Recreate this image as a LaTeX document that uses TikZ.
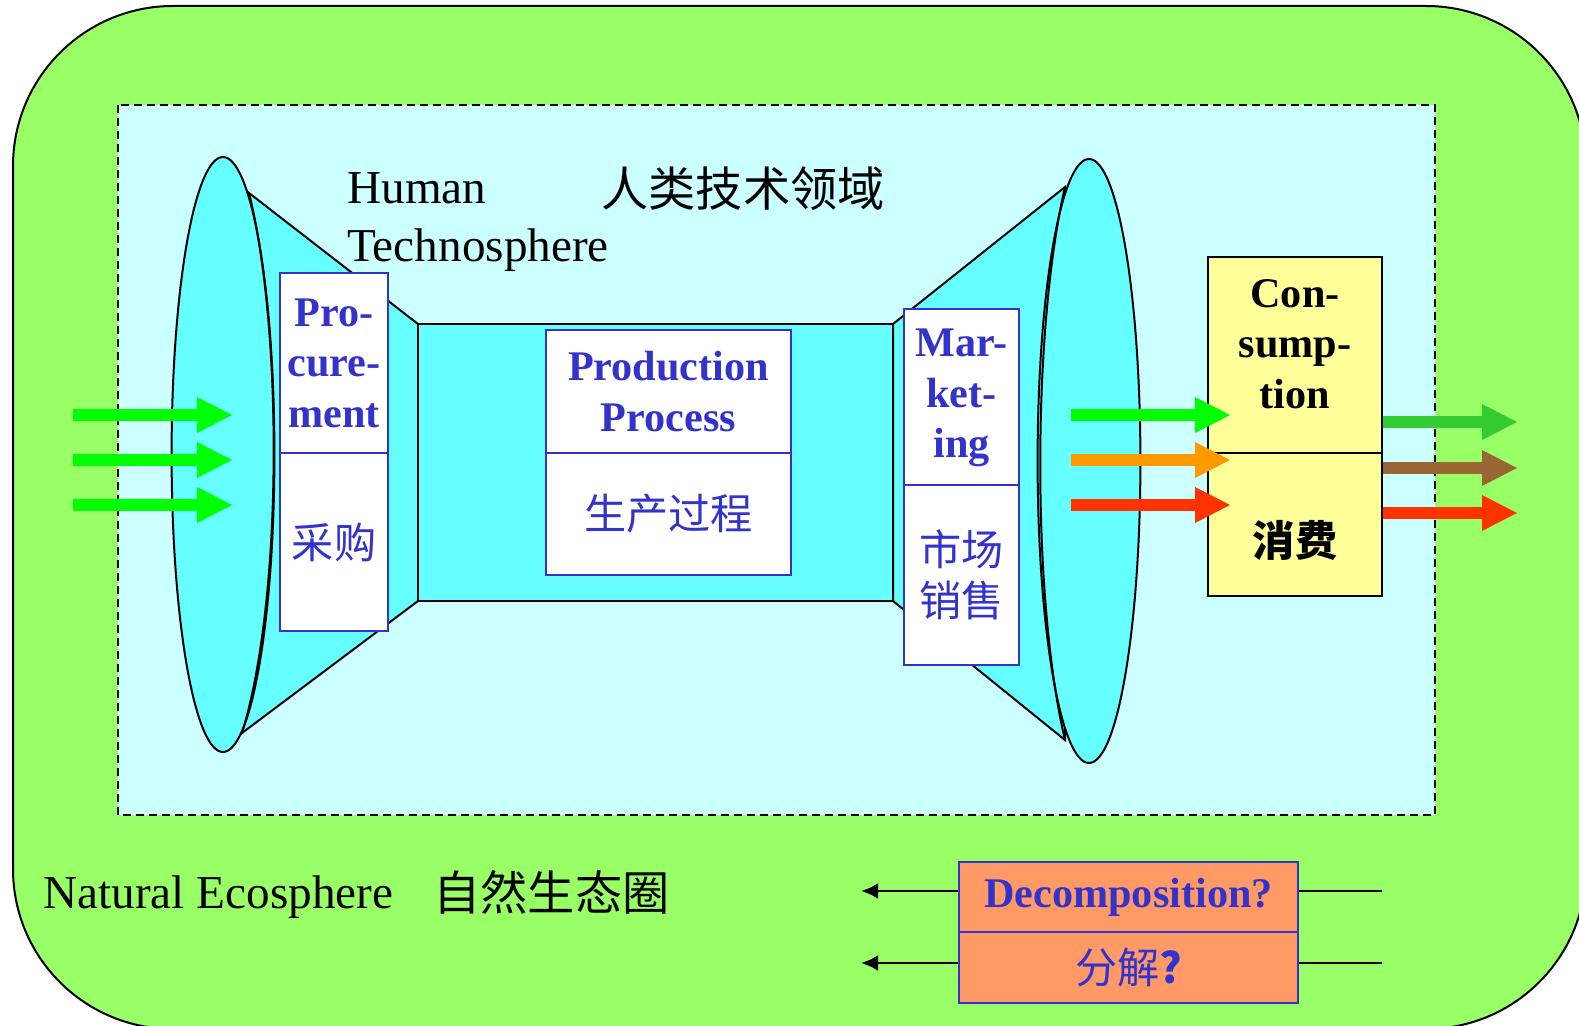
\documentclass[tikz,border=0pt]{standalone}
\usepackage{fontspec}
\setmainfont{Liberation Serif}
\newfontfamily\cjk{Noto Sans CJK SC}
\usetikzlibrary{arrows.meta}
\definecolor{ecogreen}{HTML}{99FF66}
\definecolor{techcyan}{HTML}{CCFFFF}
\definecolor{funnelcyan}{HTML}{66FFFF}
\definecolor{mblue}{HTML}{3333CC}
\definecolor{cyellow}{HTML}{FFFF99}
\definecolor{dorange}{HTML}{FF9966}
\definecolor{ingreen}{HTML}{00FF00}
\definecolor{inorange}{HTML}{FF9900}
\definecolor{inred}{HTML}{FF3300}
\definecolor{outgreen}{HTML}{33CC33}
\definecolor{outbrown}{HTML}{996633}
\newcommand{\bigtxt}{\fontsize{23.6pt}{28pt}\selectfont}
\newcommand{\boxtxt}{\fontsize{21.1pt}{25.2pt}\selectfont}
\tikzset{fat/.style = {line width=6pt, -{Triangle[length=17.5pt, width=18pt, line width=0pt]}}}
\tikzset{decline/.style = {line width=1.4pt}}
\tikzset{decarrow/.style = {line width=1.4pt, -{Latex[length=8.5pt, width=8pt]}}}
\tikzset{funnel/.style = {draw, line width=1pt, fill=funnelcyan}}
\tikzset{wbox/.style = {draw=mblue, line width=1pt, fill=white, text=mblue, inner sep=0pt,
                        align=center, font=\boxtxt\bfseries}}
\tikzset{wboxcn/.style = {wbox, font=\boxtxt\cjk}}
\tikzset{ybox/.style = {draw, line width=1pt, fill=cyellow, inner sep=0pt}}
\tikzset{obox/.style = {wbox, fill=dorange}}
\tikzset{plain/.style = {inner sep=0pt, font=\bigtxt}}

\begin{document}
\begin{tikzpicture}[x=0.5pt, y=-0.5pt]
  \useasboundingbox (0,0) rectangle (1579,1026);

  % ecosphere and technosphere
  \draw [fill=ecogreen, line width=1pt, rounded corners=80pt] (13,6) rectangle (1586,1029);
  \draw [fill=techcyan, line width=1pt, dash pattern=on 4pt off 2.5pt] (118,105) rectangle (1435,815);

  % the pipe
  \draw [funnel] (249,193) -- (418,324) -- (418,601) -- (242,733) -- cycle;
  \draw [funnel] (418,324) rectangle (893,601);
  \draw [funnel] (893,324) -- (1065,187) -- (1065,740) -- (893,601) -- cycle;
  \draw [funnel] (223,454.5) ellipse [x radius=51.4, y radius=297.5];
  \draw [funnel] (1089,461) ellipse [x radius=51.4, y radius=302];
  \draw [line width=1pt] (249,193) .. controls (283,330) and (283,600) .. (242,733);
  \draw [line width=1pt] (1065,187) .. controls (1032,330) and (1032,600) .. (1065,740);

  % boxes
  \node [wbox, minimum width=54pt, minimum height=90pt] (procA) at (334,363) {Pro-\\cure-\\ment};
  \node [wboxcn, minimum width=54pt, minimum height=89pt] (procB) at (334,542) {采购};
  \node [wbox, minimum width=122.5pt, minimum height=61.5pt] (prodA) at (668.5,391.5) {Production\\Process};
  \node [wboxcn, minimum width=122.5pt, minimum height=61pt] (prodB) at (668.5,514) {生产过程};
  \node [wbox, minimum width=57.5pt, minimum height=88.5pt] (markA) at (961.5,398) {Mar-\\ket-\\ing};
  \node [wboxcn, minimum width=57.5pt, minimum height=90pt] (markB) at (961.5,575) {市场\\销售};
  \node [ybox, minimum width=87pt, minimum height=98pt] (consA) at (1295,355) {};
  \node [ybox, minimum width=87pt, minimum height=71.5pt] (consB) at (1295,524.5) {};
  \node [align=center, inner sep=0pt, font=\boxtxt\bfseries, yshift=5.5pt] (consAtxt) at (consA) {Con-\\sump-\\tion};
  \node [inner sep=0pt, font=\boxtxt\cjk\bfseries, yshift=-7.75pt] (consBtxt) at (consB) {消费};
  \node [obox, minimum width=169.5pt, minimum height=35pt] (decA) at (1128.5,897) {Decomposition?};
  \node [obox, font=\boxtxt\cjk, minimum width=169.5pt, minimum height=35.5pt] (decB) at (1128.5,967.5) {分解{\bfseries?}};

  % labels
  \node [plain, anchor=base west] (human) at (347,204) {Human};
  \node [plain, anchor=base west] (techno) at (347,262) {Technosphere};
  \node [plain, anchor=west, font=\bigtxt\cjk] (technocn) at (601,189) {人类技术领域};
  \node [plain, anchor=base west] (eco) at (43,908) {Natural Ecosphere};
  \node [plain, anchor=west, font=\bigtxt\cjk] (ecocn) at (433,892) {自然生态圈};

  % flows
  \foreach \y in {415,460,505}
    \draw [fat, ingreen] (73,\y) -- (232,\y);
  \foreach \y/\c in {415/ingreen, 460/inorange, 505/inred}
    \draw [fat, \c] (1071,\y) -- (1230,\y);
  \foreach \y/\c in {422/outgreen, 468/outbrown, 513/inred}
    \draw [fat, \c] (consA.east |- 0,\y) -- (1517,\y);

  \coordinate (recycleA) at (1382,891);
  \coordinate (recycleB) at (1382,963);
  \coordinate (returnA) at (861,891);
  \coordinate (returnB) at (861,963);
  \draw [decline] (recycleA) -- (decA.east |- recycleA);
  \draw [decline] (recycleB) -- (decB.east |- recycleB);
  \draw [decarrow] (decA.west |- returnA) -- (returnA);
  \draw [decarrow] (decB.west |- returnB) -- (returnB);
\end{tikzpicture}
\end{document}
